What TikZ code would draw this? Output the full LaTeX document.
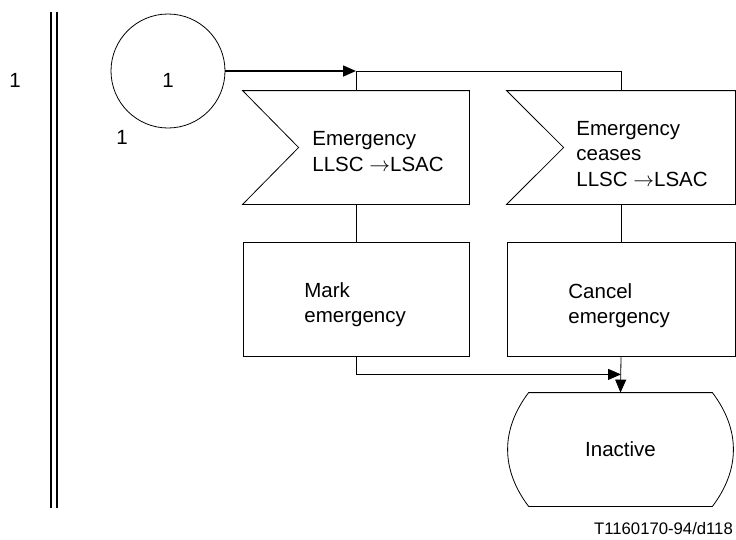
\documentclass[tikz,border=0pt]{standalone}
\usepackage{fontspec}
\setmainfont{Liberation Sans}
\usetikzlibrary{arrows.meta,positioning,calc}
\tikzset{every picture/.style={line width=0.8pt}}

\begin{document}
\begin{tikzpicture}[
    x=1pt,y=-1pt,
    txt/.style={font=\fontsize{20.5}{25.5}\selectfont,align=left,inner sep=0pt},
    sig_box/.style={minimum height=113pt,inner sep=0pt},
    task_box/.style={draw,minimum height=114pt,inner sep=0pt},
    state_box/.style={minimum width=227pt,minimum height=113pt,inner sep=0pt,font=\fontsize{20.5}{25.5}\selectfont},
    conn_circle/.style={draw,circle,minimum size=114pt,inner sep=0pt},
    flow/.style={-{Triangle[length=13pt,width=11pt]}}
]
    \useasboundingbox (0,0) rectangle (736,539);

    % Process border
    \draw[line width=2pt] (51,12) -- (51,508);
    \draw[line width=2pt] (57,12) -- (57,508);
    \node[txt] (lvl) at (15,80) {1};

    % Connector 1
    \node[conn_circle] (c1) at (168,71) {};
    \node[txt] (c1num) at (168,80) {1};
    \node[txt] (c1ref) at (122,137) {1};

    % Input signals
    \node[sig_box,minimum width=226pt] (sig1) at (356,147.5) {};
    \draw (sig1.north west) -| (sig1.south east) -- (sig1.south west)
        -- ([xshift=56pt]sig1.west) -- cycle;
    \node[txt,anchor=west] (sig1t) at (312,151.5) {Emergency\\LLSC $\rightarrow$LSAC};

    \node[sig_box,minimum width=228pt] (sig2) at (621,147.5) {};
    \draw (sig2.north west) -| (sig2.south east) -- (sig2.south west)
        -- ([xshift=57pt]sig2.west) -- cycle;
    \node[txt,anchor=west] (sig2t) at (576,154) {Emergency\\ceases\\LLSC $\rightarrow$LSAC};

    % Tasks
    \node[task_box,minimum width=226pt] (task1) at (356,299) {};
    \node[txt,anchor=west] (task1t) at (304,304.5) {Mark\\emergency};

    \node[task_box,minimum width=228pt] (task2) at (621,299) {};
    \node[txt,anchor=west] (task2t) at (568,305.5) {Cancel\\emergency};

    % Next state
    \node[state_box] (state) at (620.5,449.5) {Inactive};
    \draw ([xshift=22pt]state.north west) -- ([xshift=-22pt]state.north east)
        .. controls +(28,37) and +(28,-37) .. ([xshift=-22pt]state.south east)
        -- ([xshift=22pt]state.south west)
        .. controls +(-28,-37) and +(-28,37) .. cycle;

    % Flow lines
    \coordinate (j1) at (sig1.north |- c1.east);
    \draw[line width=1.6pt,flow] (c1.east) -- (j1);
    \draw (j1) -- (sig1.north);
    \draw (j1) -| (sig2.north);
    \draw (sig1.south) -- (task1.north);
    \draw (sig2.south) -- (task2.north);
    \coordinate (j2) at ($(task2.south)+(0,18)$);
    \draw[flow] (task1.south) |- (j2);
    \draw[flow] (task2.south) -- (state.north);

    % Figure label
    \node[font=\fontsize{16.7}{20}\selectfont,inner sep=0pt] (figid) at (663.5,529) {T1160170-94/d118};
\end{tikzpicture}
\end{document}
